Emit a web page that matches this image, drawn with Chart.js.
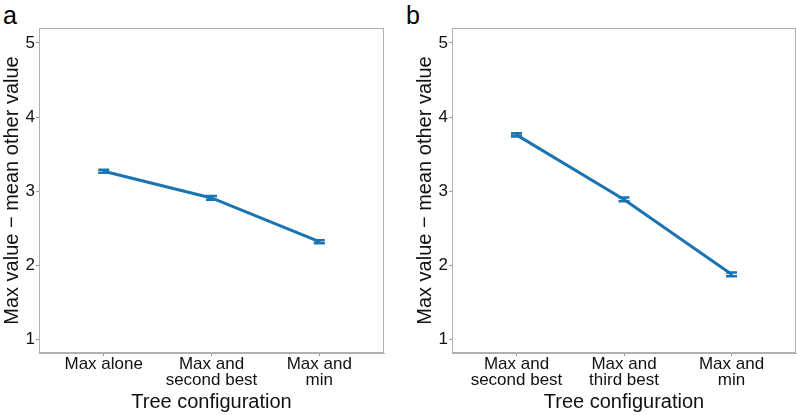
<!DOCTYPE html>
<html>
<head>
<meta charset="utf-8">
<script src="https://cdn.jsdelivr.net/npm/chart.js@4"></script>
<style>
  html, body { margin: 0; padding: 0; background: #fff; }
  #wrap { position: relative; width: 797px; height: 415px; overflow: hidden; font-family: "Liberation Sans", Arial, sans-serif; }
  .panel { position: absolute; top: 0; height: 415px; }
  .letter { position: absolute; top: 3px; font-size: 25px; line-height: 1; color: #000; }
</style>
</head>
<body>
<div id="wrap">
  <div class="letter" style="left:3px;">a</div>
  <div class="letter" style="left:406px;">b</div>
  <div class="panel" style="left:0;width:400px;"><canvas id="cA"></canvas></div>
  <div class="panel" style="left:413px;width:384px;"><canvas id="cB"></canvas></div>
</div>
<script>
// ---- data ----
const categoriesA = [["Max alone"], ["Max and", "second best"], ["Max and", "min"]];
const valuesA = [3.27, 2.91, 2.32];
const errA = [0.02, 0.025, 0.02];

const categoriesB = [["Max and", "second best"], ["Max and", "third best"], ["Max and", "min"]];
const valuesB = [3.76, 2.89, 1.88];
const errB = [0.02, 0.025, 0.025];

const yTicks = [1, 2, 3, 4, 5];
const xTitle = "Tree configuration";
const yTitle = "Max value \u2212 mean other value";

const LINE = '#1a74b4';
const FONT = '"Liberation Sans", Arial, sans-serif';

const boxAndErr = {
  id: 'boxAndErr',
  afterDatasetsDraw(chart, args, opts) {
    const ctx = chart.ctx;
    const a = chart.chartArea;
    const xs = chart.scales.x, ys = chart.scales.y;
    ctx.save();
    // error bars
    ctx.strokeStyle = LINE;
    ctx.lineWidth = 2.6;
    const vals = opts.values, errs = opts.errs;
    vals.forEach((v, i) => {
      const x = xs.getPixelForValue(i);
      const yt = ys.getPixelForValue(v + errs[i]);
      const yb = ys.getPixelForValue(v - errs[i]);
      const hw = 5.5;
      ctx.beginPath();
      ctx.moveTo(x - hw, yt); ctx.lineTo(x + hw, yt);
      ctx.moveTo(x - hw, yb); ctx.lineTo(x + hw, yb);
      ctx.moveTo(x, yt); ctx.lineTo(x, yb);
      ctx.stroke();
    });
    // panel border
    ctx.strokeStyle = '#b0b0b0';
    ctx.lineWidth = 1;
    ctx.strokeRect(Math.round(a.left) + 0.5, Math.round(a.top) + 0.5,
                   Math.round(a.right - a.left) - 1, Math.round(a.bottom - a.top) - 1);
    ctx.restore();
  }
};

function makeChart(id, cats, vals, errs, padRight) {
  return new Chart(document.getElementById(id), {
    type: 'line',
    data: {
      datasets: [{
        data: vals.map((v, i) => ({ x: i, y: v })),
        borderColor: LINE,
        borderWidth: 3,
        pointRadius: 0,
        tension: 0,
        fill: false
      }]
    },
    options: {
      responsive: false,
      animation: false,
      devicePixelRatio: 1,
      layout: { padding: { top: 28, right: padRight, left: 0, bottom: 0 } },
      plugins: {
        legend: { display: false },
        tooltip: { enabled: false },
        boxAndErr: { values: vals, errs: errs }
      },
      scales: {
        x: {
          type: 'linear',
          min: -0.6, max: 2.6,
          afterBuildTicks: s => { s.ticks = cats.map((c, i) => ({ value: i })); },
          afterFit: s => { s.height = 62; },
          grid: { drawOnChartArea: false, drawTicks: true, tickLength: 3, color: '#999' },
          border: { display: true, color: '#b0b0b0' },
          ticks: {
            callback: (v) => cats[v],
            color: '#111',
            font: { family: FONT, size: 17, lineHeight: 0.97 },
            padding: 0,
            maxRotation: 0, minRotation: 0, autoSkip: false
          },
          title: {
            display: true, text: xTitle, color: '#111',
            font: { family: FONT, size: 20, lineHeight: 1.2 },
            padding: { top: 0, bottom: 1 }
          }
        },
        y: {
          type: 'linear',
          min: 0.82, max: 5.2,
          afterBuildTicks: s => { s.ticks = yTicks.map(v => ({ value: v })); },
          afterFit: s => { s.width = 39; },
          grid: { drawOnChartArea: false, drawTicks: true, tickLength: 3, color: '#999' },
          border: { display: true, color: '#b0b0b0' },
          ticks: {
            color: '#111',
            font: { family: FONT, size: 17 },
            padding: 1
          },
          title: {
            display: true, text: yTitle, color: '#111',
            font: { family: FONT, size: 20, lineHeight: 1.2 },
            padding: 0
          }
        }
      }
    },
    plugins: [boxAndErr]
  });
}

const cA = document.getElementById('cA');
cA.width = 400; cA.height = 415;
const cB = document.getElementById('cB');
cB.width = 384; cB.height = 415;
makeChart('cA', categoriesA, valuesA, errA, 16);
makeChart('cB', categoriesB, valuesB, errB, 1);
</script>
</body>
</html>
